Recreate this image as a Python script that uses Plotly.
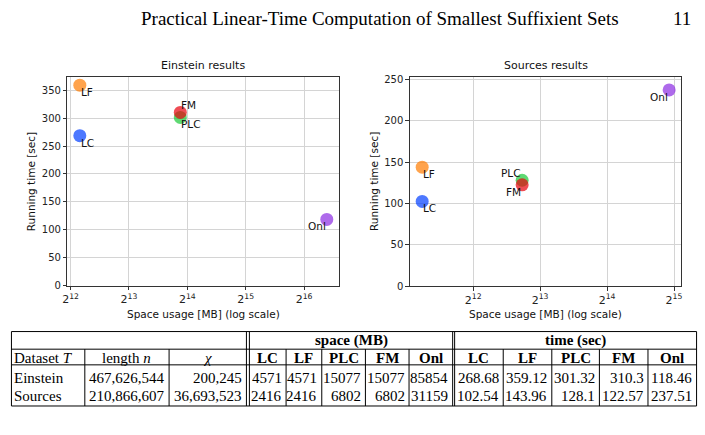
import numpy as np
import plotly.graph_objects as go

W, H = 705, 435

# ---------------- data ----------------
methods = ["LC", "LF", "PLC", "FM", "Onl"]
datasets = ["Einstein", "Sources"]
text_lengths = [467626544, 210866607]
chi_values = [200245, 36693523]
einstein_space = [4571, 4571, 15077, 15077, 85854]
einstein_time = [268.68, 359.12, 301.32, 310.3, 118.46]
sources_space = [2416, 2416, 6802, 6802, 31159]
sources_time = [102.54, 143.96, 128.1, 122.57, 237.51]
einstein_xtick_exp = [12, 13, 14, 15, 16]
sources_xtick_exp = [12, 13, 14, 15]
header_title = "Practical Linear-Time Computation of Smallest Suffixient Sets"
page_number = "11"

# ---------------- style ----------------
colors = ["#023eff", "#ff7c00", "#1ac938", "#e8000b", "#8b2be2"]
einstein_anchor = [("left", "top"), ("left", "top"), ("left", "top"),
                   ("left", "bottom"), ("right", "top")]
sources_anchor = [("left", "top"), ("left", "top"), ("right", "bottom"),
                  ("right", "top"), ("right", "top")]
SANS = "DejaVu Sans"
SERIF = "Liberation Serif"


def px(x):
    return x / W


def py(y):
    return 1 - y / H


panels = [
    dict(title="Einstein results", space=einstein_space, time=einstein_time,
         xl=63, xr=337, yt=76, yb=288.5, ymax=373, exps=einstein_xtick_exp,
         anchors=einstein_anchor, xa="x", ya="y", ytitle_x=27),
    dict(title="Sources results", space=sources_space, time=sources_time,
         xl=408.3, xr=682.3, yt=76, yb=289, ymax=252.7, exps=sources_xtick_exp,
         anchors=sources_anchor, xa="x2", ya="y2", ytitle_x=371.5),
]

fig = go.Figure()
annotations = []
shapes = []

axis_common = dict(showline=True, mirror=True, linecolor="#333", linewidth=1,
                   ticks="outside", ticklen=3.5, tickwidth=1, tickcolor="#333",
                   showgrid=True, gridcolor="#d4d4d4", gridwidth=1, zeroline=False,
                   tickfont=dict(family=SANS, size=10, color="#222"))

layout_axes = {}
for i, p in enumerate(panels):
    fig.add_trace(go.Scatter(
        x=p["space"], y=p["time"], mode="markers",
        marker=dict(size=13, color=colors, opacity=0.7, line=dict(width=0)),
        xaxis=p["xa"], yaxis=p["ya"], showlegend=False, hoverinfo="skip"))
    l2 = np.log2(p["space"])
    pad = 0.05 * (l2.max() - l2.min())
    xr = [(l2.min() - pad) * np.log10(2), (l2.max() + pad) * np.log10(2)]
    suffix = "" if i == 0 else "2"
    layout_axes["xaxis" + suffix] = dict(
        axis_common, type="log", range=xr, domain=[px(p["xl"]), px(p["xr"])],
        anchor=p["ya"], tickvals=[2 ** e for e in p["exps"]],
        ticktext=["2<sup>%d</sup>" % e for e in p["exps"]],
        tickfont=dict(family=SANS, size=11, color="#222"))
    layout_axes["yaxis" + suffix] = dict(
        axis_common, range=[0, p["ymax"]], domain=[py(p["yb"]), py(p["yt"])],
        anchor=p["xa"], dtick=50)
    # point labels
    for m, s, t, (xa, ya) in zip(methods, p["space"], p["time"], p["anchors"]):
        annotations.append(dict(
            x=np.log10(s), y=t, xref=p["xa"], yref=p["ya"], text=m,
            showarrow=False, xanchor=xa, yanchor=ya, borderpad=0,
            font=dict(family=SANS, size=10.5, color="#111")))
    cx = (p["xl"] + p["xr"]) / 2
    annotations.append(dict(x=px(cx), y=py(p["yt"] - 3), xref="paper", yref="paper",
                            text=p["title"], showarrow=False, xanchor="center",
                            yanchor="bottom", font=dict(family=SANS, size=11, color="#111")))
    annotations.append(dict(x=px(cx), y=py(318), xref="paper", yref="paper",
                            text="Space usage [MB] (log scale)", showarrow=False,
                            xanchor="center", yanchor="middle",
                            font=dict(family=SANS, size=10.5, color="#111")))
    annotations.append(dict(x=px(p["ytitle_x"]), y=py((p["yt"] + p["yb"]) / 2),
                            xref="paper", yref="paper", text="Running time [sec]",
                            textangle=-90, showarrow=False, xanchor="center",
                            yanchor="middle",
                            font=dict(family=SANS, size=10.5, color="#111")))

# ---------------- page header ----------------
annotations.append(dict(x=px(378), y=py(16), xref="paper", yref="paper",
                        text=header_title, showarrow=False, xanchor="center",
                        yanchor="middle", font=dict(family=SERIF, size=19, color="#000")))
annotations.append(dict(x=px(683), y=py(16), xref="paper", yref="paper",
                        text=page_number, showarrow=False, xanchor="center",
                        yanchor="middle", font=dict(family=SERIF, size=19, color="#000")))

# ---------------- table ----------------
T_TOP, T_H1, T_H2, T_BOT = 335.5, 353.5, 369.5, 411.5
T_LEFT, T_RIGHT = 6.5, 697.5
first_edges = [6.5, 80.5, 165.5, 243.5]
space_edges = [246.5, 283.5, 319.5, 363.5, 407.5, 451.5]
time_edges = [453.5, 502.5, 551.5, 599.5, 648.5, 697.5]
first_cols = list(zip(first_edges[:-1], first_edges[1:]))
space_cols = list(zip(space_edges[:-1], space_edges[1:]))
time_cols = list(zip(time_edges[:-1], time_edges[1:]))


def hline(y, x0=T_LEFT, x1=T_RIGHT):
    shapes.append(dict(type="line", xref="paper", yref="paper", x0=px(x0), x1=px(x1),
                       y0=py(y), y1=py(y), line=dict(color="#000", width=1)))


def vline(x, y0, y1):
    shapes.append(dict(type="line", xref="paper", yref="paper", x0=px(x), x1=px(x),
                       y0=py(y0), y1=py(y1), line=dict(color="#000", width=1)))


for y in (T_TOP, T_H1, T_H2, T_BOT):
    hline(y)
for x in (T_LEFT, 243.5, 246.5, 451.5, 453.5, T_RIGHT):
    vline(x, T_TOP, T_BOT)
for x in first_edges[1:-1] + space_edges[1:-1] + time_edges[1:-1]:
    vline(x, T_H1, T_BOT)

TFS = 15
PAD = 3.5


def cell(text, x, y, anchor, size=TFS):
    annotations.append(dict(x=px(x), y=py(y), xref="paper", yref="paper", text=text,
                            showarrow=False, xanchor=anchor, yanchor="middle",
                            borderpad=0, font=dict(family=SERIF, size=size, color="#000")))


yh1 = (T_TOP + T_H1) / 2 + 0.5
yh2 = (T_H1 + T_H2) / 2 + 0.5
row_y = [382.5, 401.5]
cell("<b>space (MB)</b>", (246.5 + 451.5) / 2, yh1, "center")
cell("<b>time (sec)</b>", (453.5 + 697.5) / 2, yh1, "center")
cell("Dataset <i>T</i>", 8.5, yh2, "left")
cell("length <i>n</i>", sum(first_cols[1]) / 2, yh2, "center")
cell("<i>χ</i>", sum(first_cols[2]) / 2, yh2, "center")
for m, c in zip(methods, space_cols):
    cell("<b>%s</b>" % m, sum(c) / 2, yh2, "center")
for m, c in zip(methods, time_cols):
    cell("<b>%s</b>" % m, sum(c) / 2, yh2, "center")

space_rows = [einstein_space, sources_space]
time_rows = [einstein_time, sources_time]
for r, name in enumerate(datasets):
    y = row_y[r]
    cell(name, 8.5, y, "left")
    cell("{:,}".format(text_lengths[r]), first_cols[1][1] - PAD, y, "right")
    cell("{:,}".format(chi_values[r]), first_cols[2][1] - PAD, y, "right")
    for v, c in zip(space_rows[r], space_cols):
        cell(str(v), c[1] - PAD, y, "right")
    for v, c in zip(time_rows[r], time_cols):
        cell("{:g}".format(v), c[1] - PAD, y, "right")

fig.update_layout(width=W, height=H, margin=dict(l=0, r=0, t=0, b=0),
                  paper_bgcolor="white", plot_bgcolor="white",
                  annotations=annotations, shapes=shapes, **layout_axes)

fig.write_html("out.html")
